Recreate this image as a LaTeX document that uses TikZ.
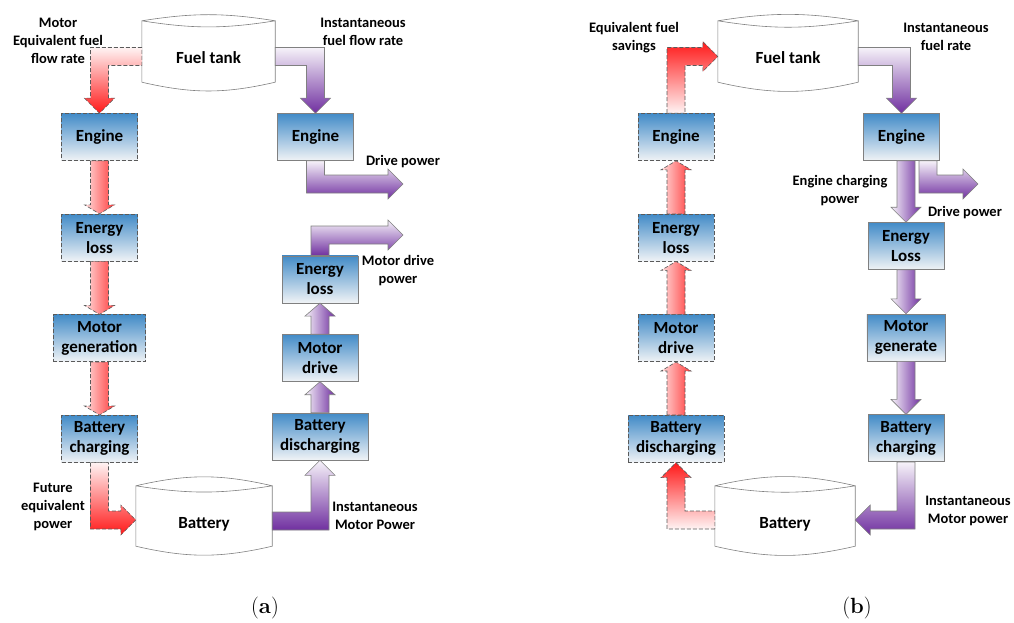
\documentclass[tikz,border=0pt]{standalone}
\usepackage{fontspec}
\usetikzlibrary{positioning,calc}
\newfontfamily\calfont{Carlito}
\newcommand\boxfont{\calfont\bfseries\fontsize{17}{20}\selectfont}
\newcommand\lblfont{\calfont\bfseries\fontsize{14.5}{18}\selectfont}

\definecolor{boxtop}{RGB}{66,139,199}
\definecolor{boxbot}{RGB}{240,243,246}
\definecolor{boxline}{RGB}{128,128,128}
\definecolor{dashline}{RGB}{90,90,90}
\definecolor{flowpurple}{RGB}{112,48,160}
\definecolor{flowred}{RGB}{255,25,25}

\tikzset{
  shaft half/.store in=\shafthalf, shaft half=9,
  tip half/.store in=\tiphalf, tip half=15,
  tip len/.store in=\tiplen, tip len=15,
  solidbox/.style={rectangle, draw=boxline, line width=0.6pt, top color=boxtop, bottom color=boxbot,
    minimum width=76pt, minimum height=47pt, inner xsep=8pt, inner ysep=2pt, align=center, font=\boxfont},
  dashbox/.style={solidbox, draw=dashline, dash pattern=on 4pt off 2pt},
  drum/.style={minimum height=61pt, inner sep=0pt, text height=25pt, text depth=0pt, font=\boxfont},
  drumline/.style={draw=boxline, line width=0.6pt},
  lbl/.style={align=center, font=\lblfont},
  pflow/.style={draw=boxline, line width=0.6pt, top color=flowpurple!6, bottom color=flowpurple},
  pflowside/.style={draw=boxline, line width=0.6pt, left color=flowpurple!6, right color=flowpurple},
  rflowdown/.style={draw=dashline, line width=0.6pt, dash pattern=on 4pt off 2pt, top color=flowred!5, bottom color=flowred},
  rflowup/.style={draw=dashline, line width=0.6pt, dash pattern=on 4pt off 2pt, top color=flowred, bottom color=flowred!5},
  rflowside/.style={draw=dashline, line width=0.6pt, dash pattern=on 4pt off 2pt, left color=flowred!15, right color=flowred!85, tip len=9},
}

% drum outline round a named node: #1 node, #2 bend of the upper lid
\newcommand\drawdrum[2]{%
  \draw[drumline] (#1.north west) to[bend left=#2] (#1.north east)
    (#1.north west) to[bend right=9] (#1.north east)
    -- (#1.south east) to[bend left=13] (#1.south west) -- cycle;}

% straight block arrow, up or down
\newcommand\fatline[3]{%
  \path[#1] let \p1=(#2), \p2=(#3), \n1={2*(\y2>\y1)-1} in
    ({\x1-\shafthalf pt},\y1) -- ({\x1-\shafthalf pt},{\y2-(\n1)*\tiplen pt})
    -- ({\x1-\tiphalf pt},{\y2-(\n1)*\tiplen pt}) -- (\x1,\y2)
    -- ({\x1+\tiphalf pt},{\y2-(\n1)*\tiplen pt}) -- ({\x1+\shafthalf pt},{\y2-(\n1)*\tiplen pt})
    -- ({\x1+\shafthalf pt},\y1) -- cycle;}

% block arrow, across first and then up or down
\newcommand\fatHV[3]{%
  \path[#1] let \p1=(#2), \p2=(#3), \n1={2*(\x2>\x1)-1}, \n2={2*(\y2>\y1)-1} in
    (\x1,{\y1-(\n2)*\shafthalf pt})
    -- ({\x2+(\n1)*\shafthalf pt},{\y1-(\n2)*\shafthalf pt})
    -- ({\x2+(\n1)*\shafthalf pt},{\y2-(\n2)*\tiplen pt})
    -- ({\x2+(\n1)*\tiphalf pt},{\y2-(\n2)*\tiplen pt})
    -- (\x2,\y2)
    -- ({\x2-(\n1)*\tiphalf pt},{\y2-(\n2)*\tiplen pt})
    -- ({\x2-(\n1)*\shafthalf pt},{\y2-(\n2)*\tiplen pt})
    -- ({\x2-(\n1)*\shafthalf pt},{\y1+(\n2)*\shafthalf pt})
    -- (\x1,{\y1+(\n2)*\shafthalf pt}) -- cycle;}

% block arrow, up or down first and then across
\newcommand\fatVH[3]{%
  \path[#1] let \p1=(#2), \p2=(#3), \n1={2*(\x2>\x1)-1}, \n2={2*(\y2>\y1)-1} in
    ({\x1-(\n1)*\shafthalf pt},\y1)
    -- ({\x1-(\n1)*\shafthalf pt},{\y2+(\n2)*\shafthalf pt})
    -- ({\x2-(\n1)*\tiplen pt},{\y2+(\n2)*\shafthalf pt})
    -- ({\x2-(\n1)*\tiplen pt},{\y2+(\n2)*\tiphalf pt})
    -- (\x2,\y2)
    -- ({\x2-(\n1)*\tiplen pt},{\y2-(\n2)*\tiphalf pt})
    -- ({\x2-(\n1)*\tiplen pt},{\y2-(\n2)*\shafthalf pt})
    -- ({\x1+(\n1)*\shafthalf pt},{\y2-(\n2)*\shafthalf pt})
    -- ({\x1+(\n1)*\shafthalf pt},\y1) -- cycle;}

\begin{document}
\begin{tikzpicture}[x=1pt,y=-1pt]
	\useasboundingbox (0,0) rectangle (1014,623);
	% (a)
	\node[drum,minimum width=133pt](tankA) at (208.5,51.5){Fuel tank};
	\node[dashbox](engA) at (99.5,137){Engine};
	\node[dashbox](lossA)[below=53pt of engA]{Energy\\loss};
	\node[dashbox](genA)[below=53pt of lossA]{Motor\\generation};
	\node[dashbox](chgA)[below=53pt of genA]{Battery\\charging};
	\node[drum,minimum width=136pt,minimum height=60pt](batA) at (204,516){Battery};
	\node[solidbox](engAr) at (315.5,137){Engine};
	\node[solidbox](disA) at (320,436.5){Battery\\discharging};
	\node[solidbox](drvA)[above=31pt of disA]{Motor\\drive};
	\node[solidbox](lossAr)[above=31pt of drvA]{Energy\\loss};
	\coordinate(outA1) at (403,184);
	\coordinate(outA2) at (403,235);
	\drawdrum{tankA}{9}
	\drawdrum{batA}{13}
	\fatHV{rflowdown}{[shift={(0,5)}]tankA.west}{engA.north}
	\fatHV{pflow}{[shift={(0,5)}]tankA.east}{engAr.north}
	\fatVH{pflow}{engAr.south}{outA1}
	\fatline{rflowside}{engA.south}{lossA.north}
	\fatline{rflowside}{lossA.south}{genA.north}
	\fatline{rflowside}{genA.south}{chgA.north}
	\fatVH{rflowdown}{chgA.south}{[shift={(0,4)}]batA.west}
	\fatHV{pflow}{[shift={(0,5)}]batA.east}{disA.south}
	\fatline{pflowside,tip len=13}{disA.north}{drvA.south}
	\fatline{pflowside,tip len=13}{drvA.north}{lossAr.south}
	\fatVH{pflow}{lossAr.north}{outA2}
	\node[lbl](lblA1) at (58,41){Motor\\Equivalent fuel\\flow rate};
	\node[lbl](lblA2) at (363,32){Instantaneous\\fuel flow rate};
	\node[lbl](lblA3) at (403,162){Drive power};
	\node[lbl](lblA4) at (398,271){Motor drive\\power};
	\node[lbl](lblA5) at (53,507){Future\\equivalent\\power};
	\node[lbl](lblA6) at (375,516){Instantaneous\\Motor Power};
	\node(capA) at (265,608){\fontsize{22}{26}\selectfont(\textbf{a})};
	% (b)
	\node[drum,minimum width=140pt](tankB) at (788,51.5){Fuel tank};
	\node[dashbox](engB) at (676,137){Engine};
	\node[dashbox](lossB)[below=53pt of engB]{Energy\\loss};
	\node[dashbox](drvB)[below=53pt of lossB]{Motor\\drive};
	\node[dashbox](disB)[below=53pt of drvB]{Battery\\discharging};
	\node[drum,minimum width=140pt,minimum height=60pt](batB) at (785,516){Battery};
	\node[solidbox](engBr) at (901.5,137){Engine};
	\node[solidbox](lossBr) at (906,246){Energy\\Loss};
	\node[solidbox](genB)[below=44pt of lossBr]{Motor\\generate};
	\node[solidbox](chgB)[below=53pt of genB]{Battery\\charging};
	\coordinate(outB) at (978,184);
	\drawdrum{tankB}{9}
	\drawdrum{batB}{13}
	\fatVH{rflowup}{engB.north}{[shift={(0,5)}]tankB.west}
	\fatHV{pflow}{[shift={(0,5)}]tankB.east}{engBr.north}
	\fatline{pflowside}{[shift={(4.5,0)}]engBr.south}{lossBr.north}
	\fatVH{pflow}{[shift={(26.5,0)}]engBr.south}{outB}
	\fatline{pflowside}{lossBr.south}{genB.north}
	\fatline{pflowside}{genB.south}{chgB.north}
	\fatVH{pflow}{chgB.south}{[shift={(0,4)}]batB.east}
	\fatHV{rflowup}{[shift={(0,4)}]batB.west}{disB.south}
	\fatline{rflowside}{disB.north}{drvB.south}
	\fatline{rflowside}{drvB.north}{lossB.south}
	\fatline{rflowside}{lossB.north}{engB.south}
	\node[lbl](lblB1) at (634,38){Equivalent fuel\\savings};
	\node[lbl](lblB2) at (946,37){Instantaneous\\fuel rate};
	\node[lbl](lblB3) at (840,191){Engine charging\\power};
	\node[lbl](lblB4) at (965,213){Drive power};
	\node[lbl](lblB5) at (968,511){Instantaneous\\Motor power};
	\node(capB) at (857,608){\fontsize{22}{26}\selectfont(\textbf{b})};
\end{tikzpicture}
\end{document}
